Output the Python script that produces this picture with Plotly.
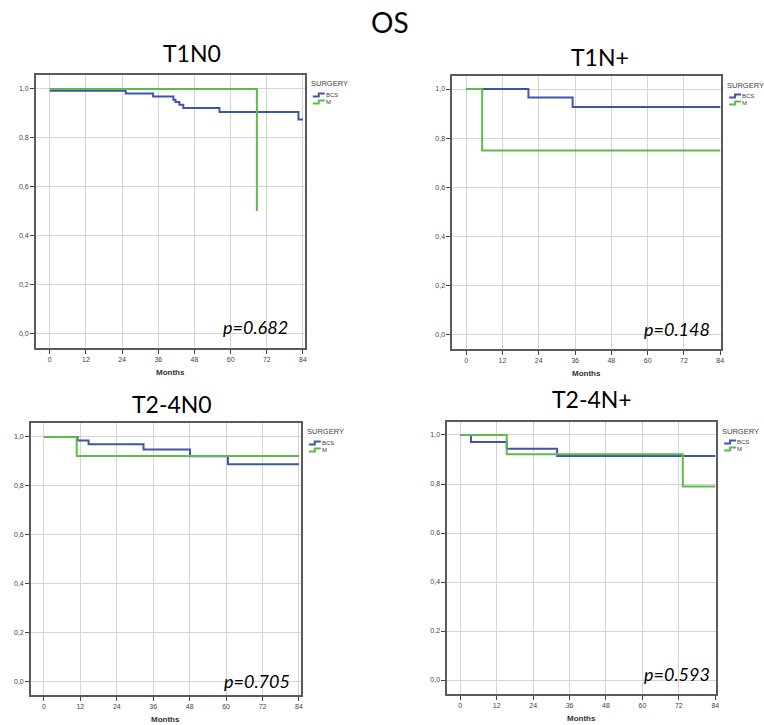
import plotly.graph_objects as go

W, H = 764, 725

# ---------------- data ----------------
panel_titles = ["T1N0", "T1N+", "T2-4N0", "T2-4N+"]
p_values = ["p=0.682", "p=0.148", "p=0.705", "p=0.593"]
series_names = ["BCS", "M"]

t1n0_bcs_t = [0, 25.2, 34.3, 41.0, 41.7, 43.0, 44.3, 56.3, 82.5, 84]
t1n0_bcs_s = [0.993, 0.981, 0.969, 0.956, 0.946, 0.935, 0.922, 0.905, 0.875, 0.875]
t1n0_m_t = [0, 68.7]
t1n0_m_s = [1.0, 0.5]

t1np_bcs_t = [0, 20.6, 35.2, 84]
t1np_bcs_s = [1.0, 0.966, 0.927, 0.927]
t1np_m_t = [0, 5.3, 84]
t1np_m_s = [1.0, 0.75, 0.75]

t24n0_bcs_t = [0, 11.1, 14.7, 32.8, 48.1, 60.6, 84]
t24n0_bcs_s = [1.0, 0.985, 0.970, 0.948, 0.921, 0.888, 0.888]
t24n0_m_t = [0, 10.8, 84]
t24n0_m_s = [1.0, 0.922, 0.922]

t24np_bcs_t = [0, 3.5, 15.3, 31.9, 84]
t24np_bcs_s = [1.0, 0.971, 0.944, 0.914, 0.914]
t24np_m_t = [0, 15.3, 73.3, 84]
t24np_m_s = [1.0, 0.921, 0.790, 0.790]

x_ticks = [0, 12, 24, 36, 48, 60, 72, 84]
y_ticks = [0.0, 0.2, 0.4, 0.6, 0.8, 1.0]
y_tick_labels = ["0,0", "0,2", "0,4", "0,6", "0,8", "1,0"]

panel_data = [
    ((t1n0_bcs_t, t1n0_bcs_s), (t1n0_m_t, t1n0_m_s)),
    ((t1np_bcs_t, t1np_bcs_s), (t1np_m_t, t1np_m_s)),
    ((t24n0_bcs_t, t24n0_bcs_s), (t24n0_m_t, t24n0_m_s)),
    ((t24np_bcs_t, t24np_bcs_s), (t24np_m_t, t24np_m_s)),
]

# ---------------- layout geometry (pixels) ----------------
# frame left, top, right, bottom
frames = [(36, 75, 306, 348), (454, 76, 724, 349), (31, 423, 302, 695), (449, 422, 719, 694)]
x_ranges = [(-4.6, 84.6), (-4.6, 84.3), (-4.3, 84.6), (-4.3, 84.3)]
y_ranges = [(-0.061, 1.057), (-0.057, 1.053), (-0.057, 1.057), (-0.057, 1.053)]
title_pos = [(193, 53), (602, 57), (173, 404), (594, 399)]
p_pos = [(257, 327), (680, 329), (258, 681), (680, 674)]
months_pos = [(171, 372), (589, 373), (166, 719), (584, 718)]

BLUE = "#3f55aa"
GREEN = "#5dbb4c"
colors = [BLUE, GREEN]

def px(x):
    return x / W

def py(y):
    return 1 - y / H

fig = go.Figure()
shapes = []
annotations = []

for i in range(4):
    l, t, r, b = frames[i]
    n = "" if i == 0 else str(i + 1)
    xa = "xaxis" + n
    ya = "yaxis" + n
    for j, (tt, ss) in enumerate(panel_data[i]):
        fig.add_trace(go.Scatter(
            x=tt, y=ss, mode="lines", line=dict(color=colors[j], width=2, shape="hv"),
            name=series_names[j], showlegend=False, hoverinfo="skip",
            xaxis="x" + n, yaxis="y" + n))
    common = dict(showline=True, mirror=True, linecolor="#5a5a5a", linewidth=1.5,
                  showgrid=True, gridcolor="#d4d4d4", gridwidth=1, zeroline=False,
                  ticks="outside", ticklen=4, tickwidth=1, tickcolor="#444",
                  tickfont=dict(family="Liberation Sans", size=7, color="#444"))
    fig.update_layout(**{
        xa: dict(domain=[px(l), px(r)], range=list(x_ranges[i]), tickvals=x_ticks,
                 anchor="y" + n, **common),
        ya: dict(domain=[py(b), py(t)], range=list(y_ranges[i]), tickvals=y_ticks,
                 ticktext=y_tick_labels, anchor="x" + n, **common),
    })
    # title
    annotations.append(dict(x=px(title_pos[i][0]), y=py(title_pos[i][1]), xref="paper", yref="paper",
                            text=panel_titles[i], showarrow=False,
                            font=dict(family="Lato", size=23, color="#000"),
                            xanchor="center", yanchor="middle"))
    # p-value
    annotations.append(dict(x=px(p_pos[i][0]), y=py(p_pos[i][1]), xref="paper", yref="paper",
                            text="<i>" + p_values[i] + "</i>", showarrow=False,
                            font=dict(family="Lato", size=18, color="#000"),
                            xanchor="center", yanchor="middle"))
    # Months
    annotations.append(dict(x=px(months_pos[i][0]), y=py(months_pos[i][1]), xref="paper", yref="paper",
                            text="<b>Months</b>", showarrow=False,
                            font=dict(family="Liberation Sans", size=8, color="#333"),
                            xanchor="center", yanchor="middle"))
    # legend
    annotations.append(dict(x=px(r + 5), y=py(t + 9), xref="paper", yref="paper",
                            text="SURGERY", showarrow=False, borderpad=0,
                            font=dict(family="Liberation Sans", size=7.5, color="#444"),
                            xanchor="left", yanchor="middle"))
    for j, off in enumerate([20, 27]):
        gy = t + off
        gx0 = r + 8
        path = "M {} {} L {} {} L {} {} L {} {}".format(
            px(gx0), py(gy + 1.5), px(gx0 + 6), py(gy + 1.5),
            px(gx0 + 6), py(gy - 1.5), px(gx0 + 12), py(gy - 1.5))
        shapes.append(dict(type="path", path=path, xref="paper", yref="paper",
                           line=dict(color=colors[j], width=2)))
        annotations.append(dict(x=px(gx0 + 12), y=py(gy), xref="paper", yref="paper",
                                text=series_names[j], showarrow=False, borderpad=0,
                                font=dict(family="Liberation Sans", size=6, color="#444"),
                                xanchor="left", yanchor="middle"))

annotations.append(dict(x=px(392), y=py(22), xref="paper", yref="paper", text="OS",
                        showarrow=False, font=dict(family="Lato", size=28, color="#000"),
                        xanchor="center", yanchor="middle"))

fig.update_layout(width=W, height=H, margin=dict(l=0, r=0, t=0, b=0),
                  paper_bgcolor="white", plot_bgcolor="white",
                  shapes=shapes, annotations=annotations, showlegend=False)

fig.write_html("out.html")
